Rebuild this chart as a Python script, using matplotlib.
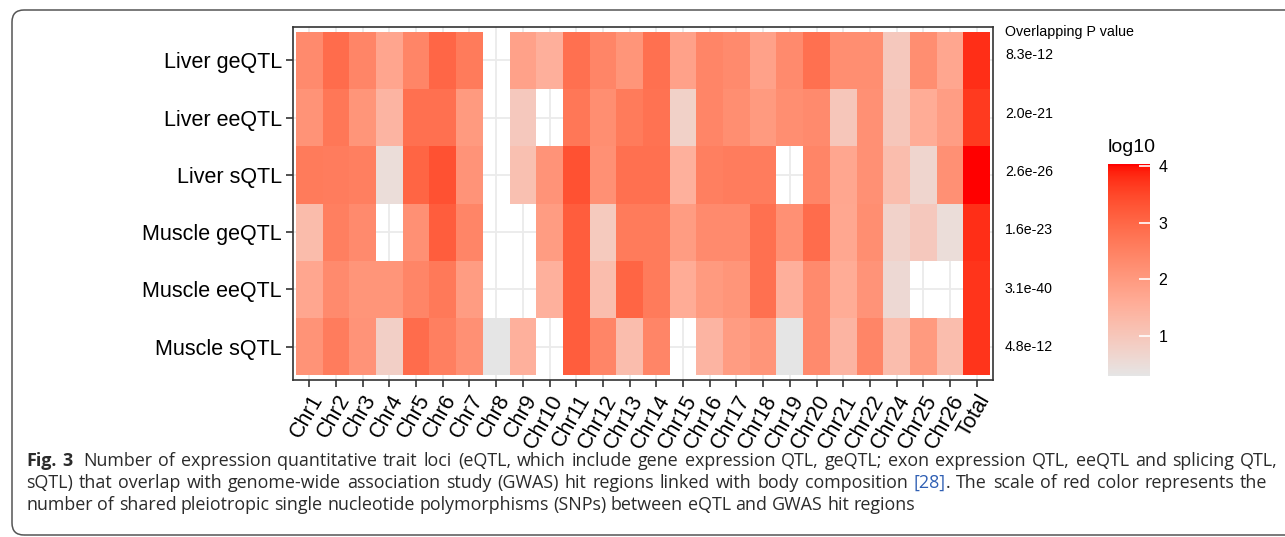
import numpy as np
import matplotlib
matplotlib.use("Agg")
import matplotlib.pyplot as plt
from matplotlib.colors import ListedColormap, Normalize
from matplotlib.patches import FancyBboxPatch
from matplotlib.transforms import IdentityTransform, blended_transform_factory

# ---- data (log10 of shared SNP counts, NaN = no overlap) ----
rows = ["Liver geQTL", "Liver eeQTL", "Liver sQTL", "Muscle geQTL", "Muscle eeQTL", "Muscle sQTL"]
chroms = ["Chr1", "Chr2", "Chr3", "Chr4", "Chr5", "Chr6", "Chr7", "Chr8", "Chr9", "Chr10",
          "Chr11", "Chr12", "Chr13", "Chr14", "Chr15", "Chr16", "Chr17", "Chr18", "Chr19",
          "Chr20", "Chr21", "Chr22", "Chr24", "Chr25", "Chr26", "Total"]
p_values = ["8.3e-12", "2.0e-21", "2.6e-26", "1.6e-23", "3.1e-40", "4.8e-12"]

nan = np.nan
liver_ge = [2.32, 2.9, 2.42, 1.75, 2.42, 3.0, 2.63, nan, 1.83, 1.53, 2.83, 2.42, 2.1,
            2.83, 1.83, 2.42, 2.32, 1.83, 2.32, 2.83, 2.24, 2.24, 0.97, 2.24, 1.74, 3.78]
liver_ee = [2.15, 2.7, 2.1, 1.42, 2.83, 2.83, 2.0, nan, 0.97, nan, 2.7, 2.24, 2.63,
            2.78, 0.78, 2.42, 2.24, 2.0, 2.24, 2.32, 1.0, 2.2, 1.0, 1.6, 1.93, 3.66]
liver_s = [2.63, 2.6, 2.53, 0.5, 3.03, 3.35, 2.13, nan, 1.15, 2.13, 3.35, 2.2, 2.83,
           2.83, 1.5, 2.53, 2.6, 2.6, nan, 2.42, 1.74, 2.2, 1.23, 0.68, 2.2, 4.03]
muscle_ge = [1.25, 2.53, 2.32, nan, 2.2, 3.17, 2.42, nan, nan, 1.95, 3.17, 0.93, 2.63,
             2.63, 1.95, 2.32, 2.32, 2.83, 2.2, 2.9, 1.7, 2.24, 0.75, 0.97, 0.5, 3.78]
muscle_ee = [1.74, 2.32, 2.1, 2.1, 2.42, 2.67, 1.95, nan, nan, 1.5, 3.17, 1.23, 3.03,
             2.63, 1.6, 2.0, 2.1, 2.83, 1.53, 2.32, 1.6, 2.13, 0.6, nan, nan, 3.72]
muscle_s = [2.15, 2.6, 2.13, 0.82, 2.9, 2.53, 2.2, 0.3, 1.5, nan, 3.17, 2.42, 1.23,
            2.42, nan, 1.42, 1.95, 2.1, 0.3, 2.32, 1.42, 2.42, 1.23, 2.0, 1.23, 3.72]

vals = np.ma.masked_invalid(np.array([liver_ge, liver_ee, liver_s, muscle_ge, muscle_ee, muscle_s]))

# ---- grey90 -> red gradient interpolated in Lab (like ggplot) ----
M = np.array([[0.4124, 0.3576, 0.1805], [0.2126, 0.7152, 0.0722], [0.0193, 0.1192, 0.9505]])
WHITE = np.array([0.95047, 1.0, 1.08883])

def to_lab(rgb):
    c = np.asarray(rgb, float)
    lin = np.where(c <= 0.04045, c / 12.92, ((c + 0.055) / 1.055) ** 2.4)
    xyz = M @ lin / WHITE
    f = np.where(xyz > 0.008856, np.cbrt(xyz), 7.787 * xyz + 16 / 116)
    return np.array([116 * f[1] - 16, 500 * (f[0] - f[1]), 200 * (f[1] - f[2])])

def from_lab(lab):
    fy = (lab[:, 0] + 16) / 116
    f = np.stack([fy + lab[:, 1] / 500, fy, fy - lab[:, 2] / 200], axis=1)
    xyz = np.where(f > 0.2069, f ** 3, (f - 16 / 116) / 7.787) * WHITE
    lin = np.clip(xyz @ np.linalg.inv(M).T, 0, 1)
    srgb = np.where(lin <= 0.0031308, 12.92 * lin, 1.055 * lin ** (1 / 2.4) - 0.055)
    return np.clip(srgb, 0, 1)

lo, hi = to_lab([229 / 255] * 3), to_lab([1.0, 0.0, 0.0])
t = np.linspace(0, 1, 256)[:, None]
cmap = ListedColormap(from_lab(lo + t * (hi - lo)))
cmap.set_bad((1, 1, 1, 0))
norm = Normalize(vmin=0.30, vmax=4.03)

# ---- figure ----
plt.rcParams["font.family"] = ["Liberation Sans", "DejaVu Sans"]
W, H = 1285, 537
fig = plt.figure(figsize=(W / 100, H / 100), dpi=100)

ax = fig.add_axes([293 / W, 1 - 380 / H, 700 / W, 353 / H])
x = np.arange(len(chroms))
y = np.arange(len(rows))
mesh = ax.pcolormesh(np.arange(len(chroms) + 1) - 0.5, np.arange(len(rows) + 1) - 0.5, vals,
                     cmap=cmap, norm=norm, shading="flat", edgecolors="none", antialiased=False)
ax.set_xlim(-0.61, len(chroms) - 0.39)
ax.set_ylim(len(rows) - 0.42, -0.58)
ax.set_xticks(x)
ax.set_xticklabels(chroms, rotation=60, ha="right", va="top", rotation_mode="anchor")
ax.set_yticks(y)
ax.set_yticklabels(rows)
ax.set_axisbelow(True)
ax.grid(True, color="#EBEBEB", linewidth=1.3)
ax.tick_params(length=5, width=1.2, color="#333333", labelsize=15.5, labelcolor="black", pad=3)
for sp in ax.spines.values():
    sp.set_color("#333333")
    sp.set_linewidth(1.2)

# p-value annotations on the right
fig.text(1005 / W, 1 - 32 / H, "Overlapping P value", fontsize=10.3, va="center", ha="left")
tr = blended_transform_factory(IdentityTransform(), ax.transData)
for i, p in enumerate(p_values):
    ax.text(1005, i * 1.02 - 0.09, p, fontsize=10.2, va="center", ha="left", transform=tr)

# colour bar
cax = fig.add_axes([1108 / W, 1 - 376 / H, 42 / W, 212 / H])
cb = fig.colorbar(mesh, cax=cax, ticks=[1, 2, 3, 4])
cb.outline.set_visible(False)
cax.tick_params(direction="in", color="white", length=8, width=1.2, labelsize=11.5,
                labelcolor="black", pad=6)
fig.text(1108 / W, 1 - 152 / H, "log10", fontsize=14, ha="left", va="baseline")

# rounded frame around figure + caption
frame = FancyBboxPatch((12, 2), 1300, H - 12, boxstyle="round,pad=0,rounding_size=12",
                       transform=IdentityTransform(), facecolor="none", edgecolor="#555555",
                       linewidth=1.1)
fig.patches.append(frame)

cap_font = ["Open Sans", "DejaVu Sans"]
cap_col = "#2b2b2b"
blue = "#2f5fb3"

def words(s, wt="normal", col=cap_col):
    return [[(w, wt, col)] for w in s.split()]

line1 = [[("Fig.", "bold", cap_col)], [("3", "bold", cap_col)]] + words(
    "Number of expression quantitative trait loci (eQTL, which include gene expression QTL, "
    "geQTL; exon expression QTL, eeQTL and splicing QTL,")
line2 = words("sQTL) that overlap with genome-wide association study (GWAS) hit regions linked "
              "with body composition") + [[("[28]", "normal", blue), (".", "normal", cap_col)]] + \
    words("The scale of red color represents the")
line3 = words("number of shared pleiotropic single nucleotide polymorphisms (SNPs) between eQTL "
              "and GWAS hit regions")

renderer = fig.canvas.get_renderer()

def piece_width(s, wt, size):
    tx = fig.text(0, 0, s, fontsize=size, fontweight=wt, family=cap_font, transform=IdentityTransform())
    w = tx.get_window_extent(renderer).width
    tx.remove()
    return w

def word_width(word, size):
    return sum(piece_width(s, wt, size) for s, wt, col in word)

def draw_line(line, x0, x1, base, size, justify):
    ws = [word_width(w, size) for w in line]
    space = piece_width("a a", "normal", size) - piece_width("aa", "normal", size)
    if justify:
        gap = (x1 - x0 - sum(ws) - space) / (len(line) - 1)
    else:
        gap = space
    xx = x0
    for k, (word, w) in enumerate(zip(line, ws)):
        px = xx
        for s, wt, col in word:
            fig.text(px, H - base, s, fontsize=size, fontweight=wt, color=col, family=cap_font,
                     ha="left", va="baseline", transform=IdentityTransform())
            px += piece_width(s, wt, size)
        xx += w + gap
        if k == 1 and line is line1:
            xx += space  # wider gap after "Fig. 3"

# caption size: last (unjustified) line ends a little right of x=870
size = 12.0
sp0 = piece_width("a a", "normal", size) - piece_width("aa", "normal", size)
nat = sum(word_width(w, size) for w in line3) + sp0 * (len(line3) - 1)
size = size * (915 - 26) / nat

draw_line(line1, 26, 1278, 466, size, True)
draw_line(line2, 26, 1272, 488, size, True)
draw_line(line3, 26, 0, 510, size, False)

fig.savefig("out.png", dpi=100)
